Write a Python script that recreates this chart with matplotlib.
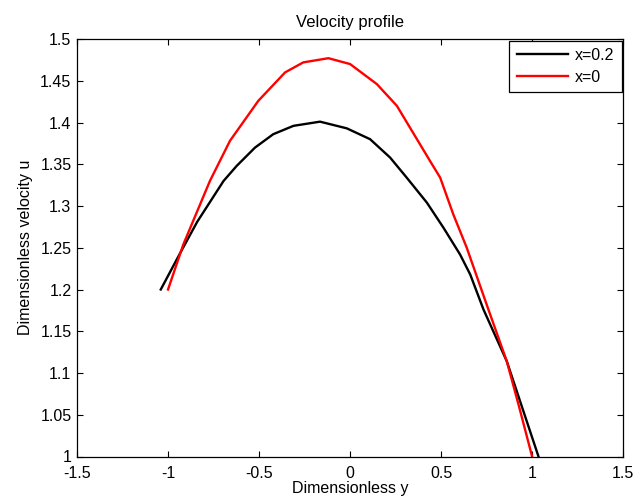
import matplotlib
matplotlib.use('Agg')
import matplotlib.pyplot as plt

plt.rcParams['font.family'] = ['Liberation Sans', 'DejaVu Sans']

# x = 0.2 profile
y_02 = [-1.04, -0.93, -0.84, -0.695, -0.623, -0.522, -0.422, -0.311, -0.165, -0.018,
        0.11, 0.22, 0.311, 0.422, 0.513, 0.604, 0.66, 0.733, 0.861, 0.916, 1.035]
u_02 = [1.200, 1.245, 1.281, 1.330, 1.348, 1.370, 1.386, 1.396, 1.401, 1.393,
        1.380, 1.358, 1.334, 1.304, 1.274, 1.242, 1.218, 1.176, 1.114, 1.078, 1.000]

# x = 0 profile
y_0 = [-1.0, -0.916, -0.77, -0.66, -0.504, -0.357, -0.257, -0.119, 0.0, 0.147,
       0.257, 0.439, 0.495, 0.567, 0.641, 0.76, 0.861, 0.928, 1.0]
u_0 = [1.200, 1.254, 1.330, 1.378, 1.426, 1.460, 1.472, 1.477, 1.470, 1.446,
       1.420, 1.354, 1.334, 1.290, 1.250, 1.176, 1.114, 1.060, 1.000]

xticks = [-1.5, -1, -0.5, 0, 0.5, 1, 1.5]
xlabels = ['-1.5', '-1', '-0.5', '0', '0.5', '1', '1.5']
yticks = [1, 1.05, 1.1, 1.15, 1.2, 1.25, 1.3, 1.35, 1.4, 1.45, 1.5]
ylabels = ['1', '1.05', '1.1', '1.15', '1.2', '1.25', '1.3', '1.35', '1.4', '1.45', '1.5']

fig = plt.figure(figsize=(6.35, 5), dpi=100)
ax = fig.add_axes([0.1213, 0.087, 0.86, 0.835])

ax.plot(y_02, u_02, color='black', lw=1.7, label='x=0.2')
ax.plot(y_0, u_0, color='red', lw=1.7, label='x=0')

ax.set_xlim(-1.5, 1.5)
ax.set_ylim(1, 1.5)
ax.set_xticks(xticks)
ax.set_xticklabels(xlabels)
ax.set_yticks(yticks)
ax.set_yticklabels(ylabels)
ax.tick_params(direction='in', top=True, right=True, labelsize=11.5, length=4, width=0.8)
ax.tick_params(axis='x', pad=7)
ax.tick_params(axis='y', pad=4)
for s in ax.spines.values():
    s.set_linewidth(0.9)

ax.set_title('Velocity profile', fontsize=12, pad=9)
ax.set_xlabel('Dimensionless y', fontsize=11.5, labelpad=0)
ax.set_ylabel('Dimensionless velocity u', fontsize=11.5, labelpad=5)

leg = ax.legend(loc='upper right', fontsize=11.5, fancybox=False, framealpha=1,
                edgecolor='black', handlelength=3.2, handletextpad=0.45,
                borderaxespad=0.1, borderpad=0.45, labelspacing=0.45)
leg.get_frame().set_linewidth(0.9)

fig.savefig('out.png', dpi=100)
